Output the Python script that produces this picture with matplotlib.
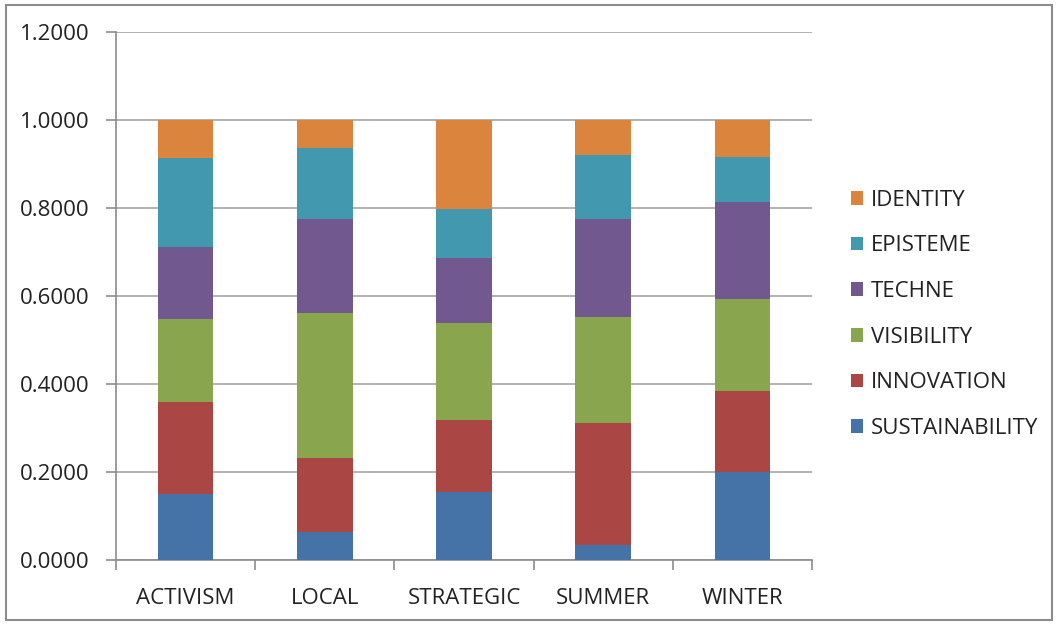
import matplotlib.pyplot as plt
import numpy as np
from matplotlib.patches import Rectangle

# Data (stacked shares, each column sums to 1)
categories = ["ACTIVISM", "LOCAL", "STRATEGIC", "SUMMER", "WINTER"]
sustainability = [0.149, 0.063, 0.154, 0.033, 0.199]
innovation = [0.209, 0.168, 0.163, 0.279, 0.185]
visibility = [0.190, 0.330, 0.222, 0.241, 0.208]
techne = [0.163, 0.213, 0.147, 0.221, 0.221]
episteme = [0.202, 0.163, 0.111, 0.146, 0.102]
identity = [0.087, 0.063, 0.203, 0.080, 0.085]

series = [
    ("SUSTAINABILITY", sustainability, "#4572A7"),
    ("INNOVATION", innovation, "#AA4643"),
    ("VISIBILITY", visibility, "#89A54E"),
    ("TECHNE", techne, "#71588F"),
    ("EPISTEME", episteme, "#4198AF"),
    ("IDENTITY", identity, "#DB843D"),
]

plt.rcParams['font.family'] = ['Open Sans', 'DejaVu Sans']

fig = plt.figure(figsize=(10.58, 6.25), dpi=100)
ax = fig.add_axes([0.1096, 0.104, 0.658, 0.845])

x = np.arange(len(categories))
bottom = np.zeros(len(categories))
handles = []
for name, vals, col in series:
    b = ax.bar(x, vals, width=0.4, bottom=bottom, color=col, label=name, zorder=3)
    handles.append(b)
    bottom += np.array(vals)

ax.set_xlim(-0.5, len(categories) - 0.5)
ax.set_ylim(0, 1.2)
ax.set_yticks(np.arange(0, 1.21, 0.2))
ax.set_yticklabels([f"{v:.4f}" for v in np.arange(0, 1.21, 0.2)], fontsize=16, color="#222222")
ax.yaxis.grid(True, color="#a6a6a6", linewidth=1.2, zorder=0)

# category boundaries as ticks, labels at centres
ax.set_xticks(np.arange(-0.5, len(categories) + 0.5, 1))
ax.set_xticklabels([])
ax.set_xticks(x, minor=True)
ax.set_xticklabels(categories, minor=True, fontsize=16, color="#222222")
ax.tick_params(axis="x", which="minor", length=0, pad=20)
ax.tick_params(axis="x", which="major", length=7, color="#8c8c8c", width=1.2)
ax.tick_params(axis="y", length=7, color="#8c8c8c", width=1.2, pad=12)

for s in ["top", "right"]:
    ax.spines[s].set_visible(False)
for s in ["left", "bottom"]:
    ax.spines[s].set_color("#8c8c8c")
    ax.spines[s].set_linewidth(1.2)

leg = fig.legend(handles[::-1], [s[0] for s in series][::-1],
                 loc="center left", bbox_to_anchor=(0.7855, 0.497), frameon=False,
                 fontsize=16, handlelength=0.55, handleheight=0.55,
                 handletextpad=0.35, labelspacing=1.11)
for t in leg.get_texts():
    t.set_color("#222222")

# outer chart frame
fig.patches.append(Rectangle((0.006, 0.008), 0.988, 0.984, transform=fig.transFigure,
                             fill=False, edgecolor="#8c8c8c", linewidth=1.5))

fig.savefig("out.png", dpi=100)
